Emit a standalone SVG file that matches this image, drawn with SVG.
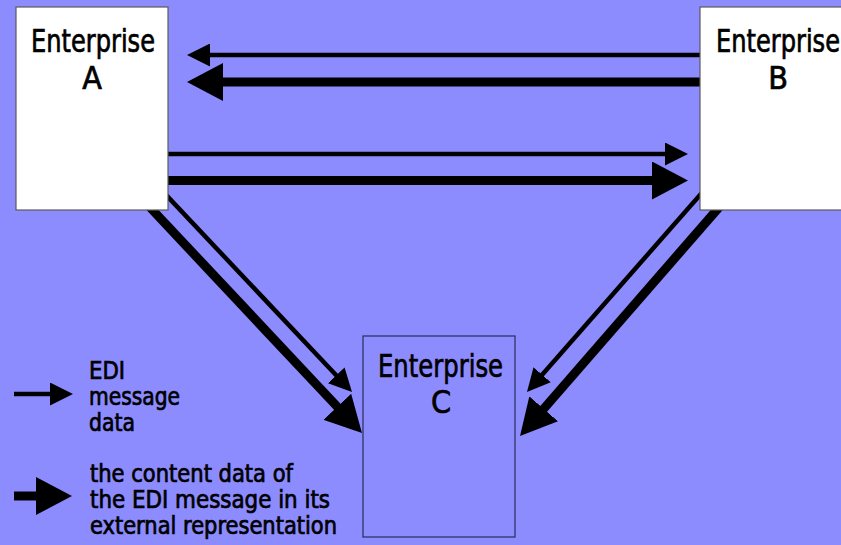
<svg xmlns="http://www.w3.org/2000/svg" width="841" height="545" viewBox="0 0 841 545">
<style>
.t{font-family:"DejaVu Sans Condensed","DejaVu Sans",sans-serif;fill:#000;stroke:#000;stroke-width:0.7}
.title{font-size:32px;text-anchor:middle}
.leg{font-size:24px}
.thin{stroke:#000;stroke-width:4.5;fill:none}
.thick{stroke:#000;stroke-width:9;fill:none}
.box{fill:#fff;stroke:#5a5a5a;stroke-width:1.2}
</style>
<defs>
<marker id="hThin" markerUnits="userSpaceOnUse" markerWidth="23" markerHeight="23" refX="1" refY="11.5" orient="auto">
<path d="M0,0 L23,11.5 L0,23 Z" fill="#000"/>
</marker>
<marker id="hThick" markerUnits="userSpaceOnUse" markerWidth="36" markerHeight="38" refX="1" refY="19" orient="auto">
<path d="M0,0 L36,19 L0,38 Z" fill="#000"/>
</marker>
</defs>
<rect width="841" height="545" fill="#8c8cff"/>
<g id="connectors">
<line class="thin" x1="705" y1="55" x2="209" y2="55" marker-end="url(#hThin)"/>
<line class="thick" x1="705" y1="82" x2="222" y2="82" marker-end="url(#hThick)"/>
<line class="thin" x1="160" y1="154" x2="666" y2="154" marker-end="url(#hThin)"/>
<line class="thick" x1="160" y1="180.5" x2="653" y2="180.5" marker-end="url(#hThick)"/>
<line class="thin" x1="164.6" y1="193.4" x2="336.9" y2="376" marker-end="url(#hThin)"/>
<line class="thick" x1="145" y1="202" x2="338" y2="407.5" marker-end="url(#hThick)"/>
<line class="thin" x1="703.3" y1="191.2" x2="541.5" y2="375.5" marker-end="url(#hThin)"/>
<line class="thick" x1="723.9" y1="201.7" x2="543" y2="409.6" marker-end="url(#hThick)"/>
</g>
<g id="nodeA">
<rect class="box" x="16" y="7" width="152" height="203"/>
<text class="t title" x="93" y="52" textLength="124" lengthAdjust="spacingAndGlyphs">Enterprise</text>
<text class="t title" x="92" y="89">A</text>
</g>
<g id="nodeB">
<rect class="box" x="700" y="7" width="160" height="203"/>
<text class="t title" x="778" y="52" textLength="124" lengthAdjust="spacingAndGlyphs">Enterprise</text>
<text class="t title" x="778" y="89">B</text>
</g>
<g id="nodeC">
<rect x="363" y="336" width="152" height="201" fill="none" stroke="#2a2a5a" stroke-width="1.2"/>
<text class="t title" x="440.5" y="377" textLength="125" lengthAdjust="spacingAndGlyphs">Enterprise</text>
<text class="t title" x="441" y="413">C</text>
</g>
<g id="legend">
<line class="thin" x1="14" y1="394" x2="51" y2="394" marker-end="url(#hThin)"/>
<text class="t leg" x="89" y="379" textLength="36" lengthAdjust="spacingAndGlyphs">EDI</text>
<text class="t leg" x="89" y="404.5" textLength="91" lengthAdjust="spacingAndGlyphs">message</text>
<text class="t leg" x="89" y="431" textLength="46" lengthAdjust="spacingAndGlyphs">data</text>
<line class="thick" x1="14" y1="496" x2="37" y2="496" stroke-width="10" marker-end="url(#hThick)"/>
<text class="t leg" x="90" y="482" textLength="203" lengthAdjust="spacingAndGlyphs">the content data of</text>
<text class="t leg" x="90" y="508" textLength="240" lengthAdjust="spacingAndGlyphs">the EDI message in its</text>
<text class="t leg" x="90" y="534" textLength="247" lengthAdjust="spacingAndGlyphs">external representation</text>
</g>
</svg>
